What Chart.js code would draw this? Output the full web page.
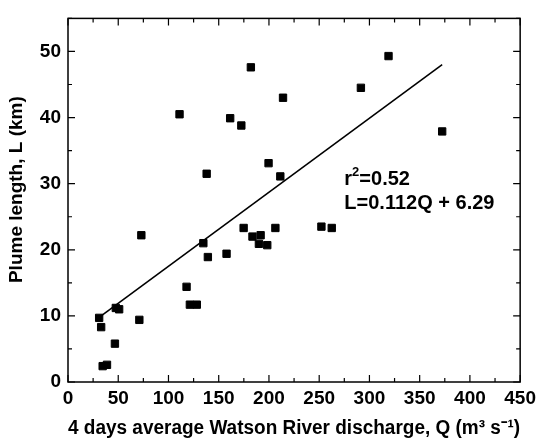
<!DOCTYPE html>
<html>
<head>
<meta charset="utf-8">
<script src="https://cdn.jsdelivr.net/npm/chart.js@4/dist/chart.umd.min.js"></script>
<style>
  html,body{margin:0;padding:0;background:#fff;}
  #wrap{width:541px;height:441px;position:relative;}
</style>
</head>
<body>
<div id="wrap"><canvas id="c"></canvas></div>
<script>
/* ── data ── */
const dischargeQ = [31, 33, 34.5, 38.8, 46.7, 47.6, 50.9, 71, 73, 111, 118, 121.3, 128.2, 134.7, 138, 139.2, 157.8, 161.4, 172.5, 174.8, 182, 183.6, 190, 191.7, 198.3, 199.6, 206.4, 211.3, 214, 252.2, 262.5, 291.5, 319, 372.4];
const plumeL     = [9.7, 8.3, 2.4, 2.6, 5.8, 11.2, 11.0, 9.4, 22.2, 40.5, 14.4, 11.7, 11.7, 21.0, 31.5, 18.9, 19.4, 39.9, 38.8, 23.3, 47.6, 22.0, 20.9, 22.2, 20.7, 33.1, 23.3, 31.1, 43.0, 23.5, 23.3, 44.5, 49.3, 37.9];
// regression line end points as drawn
const fitQ = [33, 372.4];
const fitL = [10.0, 48.0];

const xTicks = [0, 50, 100, 150, 200, 250, 300, 350, 400, 450];
const yTicks = [0, 10, 20, 30, 40, 50];
const xTitle = '4 days average Watson River discharge, Q (m\u00B3 s\u207B\u00B9)';
// leading spaces nudge the rotated title up a little, like the original
const yTitle = '    Plume length, L (km)';

const FONT = '"Liberation Sans", Arial, sans-serif';

// frame + inward ticks on all four sides, annotation text
const framePlugin = {
  id:'frame',
  afterDraw(chart){
    const {ctx, chartArea:a, scales:{x, y}} = chart;
    ctx.save();
    ctx.strokeStyle = '#000';
    ctx.lineWidth = 1.5;
    ctx.strokeRect(a.left, a.top, a.right - a.left, a.bottom - a.top);
    ctx.lineWidth = 1.2;
    ctx.beginPath();
    xTicks.forEach((v, i)=>{
      const px = x.getPixelForValue(v);
      ctx.moveTo(px, a.bottom); ctx.lineTo(px, a.bottom - 7);
      ctx.moveTo(px, a.top);    ctx.lineTo(px, a.top + 7);
      if(i < xTicks.length - 1){
        const pm = x.getPixelForValue((v + xTicks[i+1]) / 2);
        ctx.moveTo(pm, a.bottom); ctx.lineTo(pm, a.bottom - 4);
        ctx.moveTo(pm, a.top);    ctx.lineTo(pm, a.top + 4);
      }
    });
    yTicks.forEach((v)=>{
      const py = y.getPixelForValue(v);
      const pm = y.getPixelForValue(v + 5);
      ctx.moveTo(a.left, py);  ctx.lineTo(a.left + 7, py);
      ctx.moveTo(a.right, py); ctx.lineTo(a.right - 7, py);
      ctx.moveTo(a.left, pm);  ctx.lineTo(a.left + 4, pm);
      ctx.moveTo(a.right, pm); ctx.lineTo(a.right - 4, pm);
    });
    ctx.stroke();

    // r² and equation
    ctx.fillStyle = '#000';
    ctx.textBaseline = 'middle';
    ctx.textAlign = 'left';
    const tx = x.getPixelForValue(275);
    const ty1 = y.getPixelForValue(30.6);
    const ty2 = y.getPixelForValue(27.0);
    ctx.font = 'bold 20px ' + FONT;
    ctx.fillText('r', tx, ty1);
    let w = ctx.measureText('r').width;
    ctx.font = 'bold 13px ' + FONT;
    ctx.fillText('2', tx + w, ty1 - 7);
    w += ctx.measureText('2').width;
    ctx.font = 'bold 20px ' + FONT;
    ctx.fillText('=0.52', tx + w, ty1);
    ctx.fillText('L=0.112Q + 6.29', tx, ty2);
    ctx.restore();
  }
};

const pts = dischargeQ.map((q, i)=>({x:q, y:plumeL[i]}));
const fit = fitQ.map((q, i)=>({x:q, y:fitL[i]}));

new Chart(document.getElementById('c'), {
  type:'scatter',
  data:{
    datasets:[
      {label:'fit', type:'line', data:fit, borderColor:'#000', borderWidth:1.6, pointRadius:0, fill:false, tension:0},
      {label:'L', data:pts, pointStyle:'rect', pointRadius:5.2, pointHoverRadius:5.2,
       backgroundColor:'#000', borderColor:'#000', borderWidth:1}
    ]
  },
  options:{
    responsive:true, maintainAspectRatio:false, animation:false,
    layout:{padding:{top:13, right:13, left:0, bottom:0}},
    plugins:{legend:{display:false}, tooltip:{enabled:false}},
    scales:{
      x:{
        type:'linear', min:0, max:450,
        afterFit(s){ s.height = 59; },
        grid:{display:false, drawTicks:false},
        border:{display:false},
        ticks:{stepSize:50, padding:5, color:'#000', font:{family:FONT, size:19, weight:'bold'}},
        title:{display:true, text:xTitle, color:'#000', padding:{top:0, bottom:3},
               font:{family:FONT, size:20, weight:'bold', lineHeight:1}}
      },
      y:{
        type:'linear', min:0, max:55,
        afterFit(s){ s.width = 68; },
        grid:{display:false, drawTicks:false},
        border:{display:false},
        ticks:{stepSize:10, padding:7, color:'#000', font:{family:FONT, size:19, weight:'bold'},
               callback:(v)=> yTicks.includes(v) ? v : null},
        title:{display:true, text:yTitle, color:'#000', padding:{top:7, bottom:0},
               font:{family:FONT, size:19, weight:'bold', lineHeight:1}}
      }
    }
  },
  plugins:[framePlugin]
});
</script>
</body>
</html>
